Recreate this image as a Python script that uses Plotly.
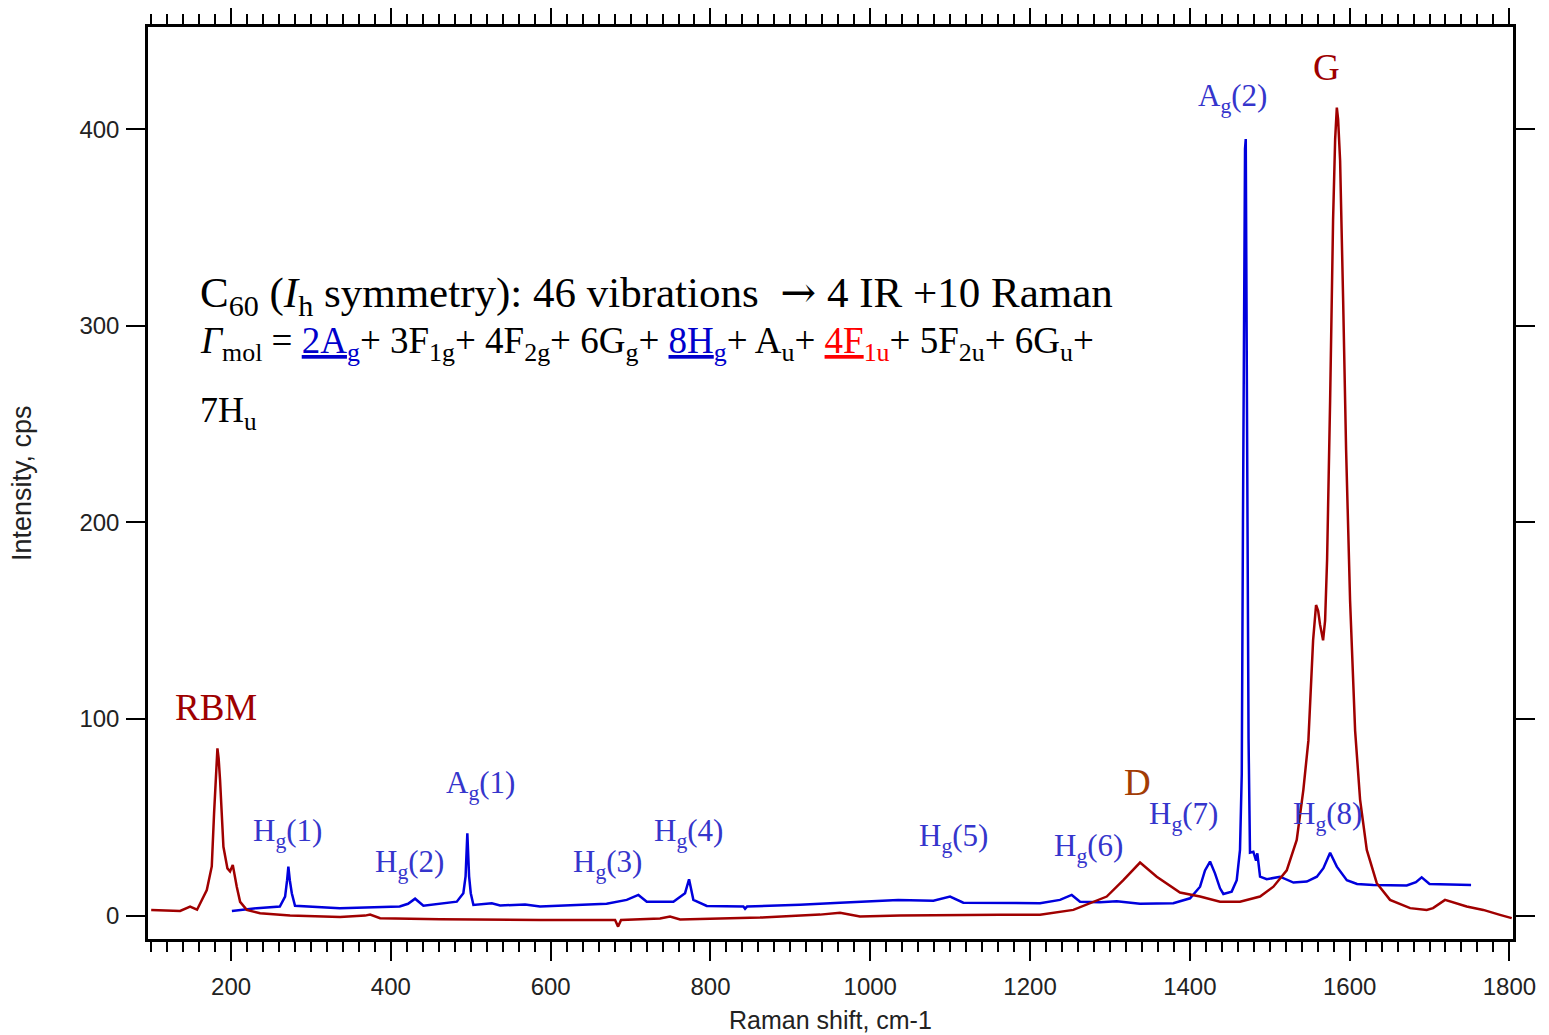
import plotly.graph_objects as go

# ---- data ----
# C60 spectrum (blue)
c60_shift = [201, 232, 261, 267.6, 270.1, 271.7, 273.5, 276, 280, 336, 411, 421.5, 430.3, 440.7,
             482.5, 490.7, 493.5, 495.7, 497.9, 500, 503.3, 526.3, 536.7, 568, 586.7, 670, 695.2,
             709.8, 720.3, 753.6, 768.2, 773.2, 778.6, 795.4, 841.2, 843.3, 845.8, 912, 962.2,
             1035, 1079, 1099.9, 1116.5, 1162.5, 1212.5, 1237.5, 1252.2, 1262.6, 1287.6, 1308.5,
             1337.7, 1379.3, 1400.3, 1412.8, 1419, 1425.3, 1431.5, 1437.8, 1442, 1452.4, 1458.7,
             1462.8, 1465, 1466.5, 1467.8, 1469.1, 1470, 1471, 1472.2, 1473.5, 1475.3, 1479.5,
             1482.9, 1484.5, 1487.9, 1496.3, 1512.9, 1529.7, 1546.4, 1559, 1567.2, 1575.6, 1584,
             1596.5, 1609.3, 1629.7, 1671.5, 1683, 1690.2, 1700, 1752]
c60_int = [2.4, 3.8, 4.6, 9.7, 18, 24.9, 18, 11.4, 5, 3.8, 4.6, 6, 8.6, 5,
           7.1, 11.4, 20, 41.9, 20, 11.4, 5.4, 6.3, 5.2, 5.6, 4.6, 6, 8,
           10.5, 7.1, 7.1, 11.4, 18.5, 8, 4.9, 4.6, 3.5, 4.6, 5.5, 6.6,
           8, 7.6, 9.7, 6.6, 6.6, 6.3, 8, 10.5, 7.1, 6.8, 7.3,
           6, 6.3, 8.8, 14.7, 23, 27.5, 21.5, 13.9, 11, 12.2, 18,
           33.4, 72, 200, 320, 390, 395, 330, 200, 90, 32, 32.5,
           28, 31.7, 19.8, 18.5, 19.8, 16.8, 17.3, 19.8, 24.1, 32, 24.9,
           18, 16.1, 15.6, 15.3, 17, 19.5, 16.1, 15.6]

# Carbon nanotube spectrum (dark red)
cnt_shift = [100, 136.2, 148.7, 157.4, 169.6, 175.8, 178.7, 181.2, 182.9, 184.4, 186.2, 190.4,
             195.4, 198.7, 202.1, 207.1, 211.3, 219.6, 236.3, 273.8, 336.4, 367.7, 374, 386.5,
             461.6, 586.7, 680.6, 684.4, 688.1, 736.9, 749.4, 762, 862.1, 937.2, 962.2, 987.2,
             1037.3, 1162.5, 1212.5, 1254.2, 1296, 1316.8, 1337.7, 1358.6, 1387.7, 1412.8,
             1437.8, 1462.8, 1487.9, 1504.6, 1521.3, 1533.8, 1542.1, 1548.4, 1550.5, 1554.3,
             1558, 1560.6, 1563, 1566.8, 1569.3, 1571.8, 1575.6, 1579.3, 1581.9, 1584, 1585.6,
             1588.1, 1591.9, 1595.6, 1600.6, 1606.9, 1613.1, 1621.5, 1634, 1650.6, 1675.7,
             1696.5, 1704.4, 1719.4, 1746.5, 1767.3, 1788.2, 1802.9]
cnt_int = [2.9, 2.4, 4.6, 3, 13, 25, 52, 75.7, 85.1, 80, 69, 35,
           24, 22.5, 25.8, 14.7, 7, 2.9, 1.2, 0, -0.7, 0, 0.5, -1.3,
           -1.8, -2.2, -2.2, -5.6, -2.2, -1.5, -0.5, -2, -1, 0.5, 1.5, -0.5,
           0, 0.4, 0.4, 2.9, 9.7, 18, 27, 19.8, 11.7, 9.7,
           7.1, 7.1, 9.7, 14.7, 23, 38.5, 64, 89, 110, 140,
           158, 155, 148, 140, 150, 181, 262, 354, 395, 411, 405,
           384, 313, 237, 160, 94, 59, 33.4, 16.5, 8, 3.8,
           2.9, 3.8, 8, 4.6, 2.9, 0.36, -1.3]

# peak labels
blue_labels = ["H<sub>g</sub>(1)", "H<sub>g</sub>(2)", "A<sub>g</sub>(1)", "H<sub>g</sub>(3)",
               "H<sub>g</sub>(4)", "H<sub>g</sub>(5)", "H<sub>g</sub>(6)", "H<sub>g</sub>(7)",
               "H<sub>g</sub>(8)", "A<sub>g</sub>(2)"]
blue_label_x = [270, 423, 511.6, 670.6, 772, 1103.6, 1272.6, 1391.5, 1571.7, 1452.8]
blue_label_y = [42, 26, 66.5, 26, 42, 39.5, 34.5, 50.8, 50.8, 416]

red_labels = ["RBM", "G", "D"]
red_label_x = [181, 1570.5, 1334]
red_label_y = [106, 431.5, 67.5]
red_label_colors = ["#9e0000", "#9e0000", "#a23c05"]

x_ticks = [200, 400, 600, 800, 1000, 1200, 1400, 1600, 1800]
y_ticks = [0, 100, 200, 300, 400]

BLUE_LINE = "#0000dd"
RED_LINE = "#a00000"
LABEL_BLUE = "#3535cc"
SERIF = "Liberation Serif, Times New Roman, serif"
SANS = "Liberation Sans, Arial, sans-serif"
AXIS_TXT = "#222222"

fig = go.Figure()
fig.add_trace(go.Scatter(x=c60_shift, y=c60_int, mode="lines",
                         line=dict(color=BLUE_LINE, width=2.5), showlegend=False))
fig.add_trace(go.Scatter(x=cnt_shift, y=cnt_int, mode="lines",
                         line=dict(color=RED_LINE, width=2.5), showlegend=False))

annotations = []
for t, x, y in zip(blue_labels, blue_label_x, blue_label_y):
    annotations.append(dict(x=x, y=y, xref="x", yref="y", text=t, showarrow=False,
                            font=dict(family=SERIF, size=31, color=LABEL_BLUE),
                            xanchor="center", yanchor="middle"))
for t, x, y, c in zip(red_labels, red_label_x, red_label_y, red_label_colors):
    annotations.append(dict(x=x, y=y, xref="x", yref="y", text=t, showarrow=False,
                            font=dict(family=SERIF, size=37, color=c),
                            xanchor="center", yanchor="middle"))

arrow = "<span style='font-family:DejaVu Serif'>\u2192</span>"
line1 = "C<sub>60</sub> (<i>I</i><sub>h</sub> symmetry): 46 vibrations  " + arrow + " 4 IR +10 Raman"
line2 = ("<i>\u0393</i><sub>mol</sub> = "
         "<span style='color:#0000cc'><u>2A</u><sub>g</sub></span>+ 3F<sub>1g</sub>+ 4F<sub>2g</sub>+ 6G<sub>g</sub>+ "
         "<span style='color:#0000cc'><u>8H</u><sub>g</sub></span>+ A<sub>u</sub>+ "
         "<span style='color:#ff0000'><u>4F</u><sub>1u</sub></span>+ 5F<sub>2u</sub>+ 6G<sub>u</sub>+")
line3 = "7H<sub>u</sub>"
for t, y, s in [(line1, 315.6, 43), (line2, 291.2, 37), (line3, 256, 36)]:
    annotations.append(dict(x=158, y=y, xref="x", yref="y", text=t, showarrow=False,
                            font=dict(family=SERIF, size=s, color="black"),
                            xanchor="left", yanchor="middle"))

# axis titles
annotations.append(dict(x=0.5, y=-0.0888, xref="paper", yref="paper", text="Raman shift, cm-1",
                        showarrow=False, xanchor="center", yanchor="middle",
                        font=dict(family=SANS, size=25, color=AXIS_TXT)))
annotations.append(dict(x=-0.0923, y=0.5, xref="paper", yref="paper", text="Intensity, cps",
                        showarrow=False, xanchor="center", yanchor="middle", textangle=-90,
                        font=dict(family=SANS, size=27, color=AXIS_TXT)))

fig.update_layout(
    width=1549, height=1035,
    margin=dict(l=140, r=44, t=19, b=104),
    paper_bgcolor="white", plot_bgcolor="white",
    annotations=annotations,
    font=dict(family=SANS, size=24, color=AXIS_TXT),
)
fig.update_xaxes(
    range=[96, 1804.5], tickvals=x_ticks, ticktext=[str(v) for v in x_ticks],
    ticks="outside", ticklen=19, tickwidth=2, tickcolor="black",
    showline=True, linecolor="black", linewidth=2.5, mirror="allticks",
    showgrid=False, zeroline=False, automargin=False, ticklabelstandoff=5,
    minor=dict(dtick=20, tick0=0, ticks="outside", ticklen=10, tickwidth=1.5, tickcolor="black", showgrid=False),
    tickfont=dict(family=SANS, size=24, color=AXIS_TXT),
)
fig.update_yaxes(
    range=[-11.9, 452], tickvals=y_ticks, ticktext=[str(v) for v in y_ticks],
    ticks="outside", ticklen=19, tickwidth=2, tickcolor="black",
    showline=True, linecolor="black", linewidth=2.5, mirror="ticks",
    showgrid=False, zeroline=False, automargin=False, ticklabelstandoff=2,
    tickfont=dict(family=SANS, size=24, color=AXIS_TXT),
)

fig.write_html("out.html")
